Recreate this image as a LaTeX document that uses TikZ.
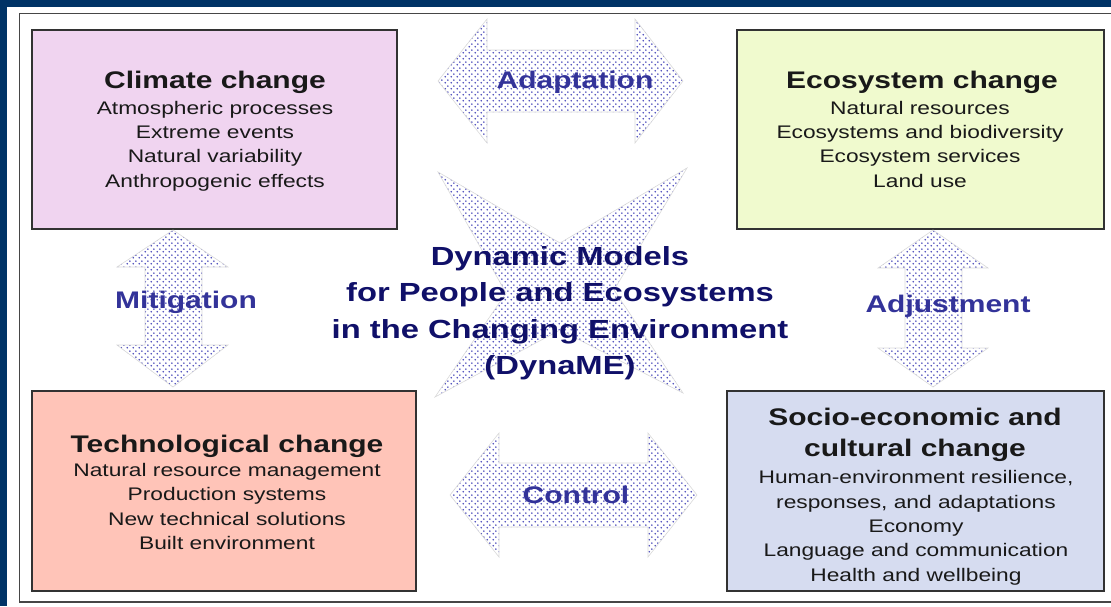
\documentclass[tikz,border=0pt]{standalone}
\usepackage{fontspec}
\setmainfont{Liberation Sans}[FakeStretch=1.25]
\usetikzlibrary{patterns}
\definecolor{framebl}{RGB}{0,51,102}
\definecolor{climfill}{RGB}{240,212,240}
\definecolor{ecofill}{RGB}{240,250,206}
\definecolor{techfill}{RGB}{255,196,184}
\definecolor{sociofill}{RGB}{214,220,240}
\definecolor{dotblue}{RGB}{72,72,185}
\definecolor{lblblue}{RGB}{51,51,153}
\definecolor{navy}{RGB}{16,16,105}
\definecolor{boxtext}{RGB}{25,25,25}
\pgfdeclarepatternformonly{bigdots}{\pgfpointorigin}{\pgfpoint{6pt}{6pt}}{\pgfpoint{6pt}{6pt}}{%
  \pgfpathcircle{\pgfpoint{1.5pt}{1.5pt}}{1pt}%
  \pgfpathcircle{\pgfpoint{4.5pt}{4.5pt}}{1pt}%
  \pgfusepath{fill}}
\begin{document}
\begin{tikzpicture}[x=1pt,y=-1pt,
  box/.style={draw={rgb,255:red,50;green,50;blue,50}, line width=1.3pt, inner sep=0pt},
  blockarrow/.style={pattern=bigdots, pattern color=dotblue, draw=gray!30, line width=0.6pt},
  titletext/.style={anchor=base, align=center, text=boxtext, inner sep=0pt, font={\fontsize{24}{31}\selectfont\bfseries}},
  listtext/.style={anchor=base, align=center, text=boxtext, inner sep=0pt, font={\fontsize{18.2}{24.3}\selectfont}},
  arrowlabel/.style={anchor=base, text=lblblue, inner sep=0pt, font={\fontsize{24}{28}\selectfont\bfseries}},
  centertext/.style={anchor=base, align=center, text=navy, inner sep=0pt, font={\fontsize{26.2}{36.5}\selectfont\bfseries}}]
\useasboundingbox (0,0) rectangle (1111,606);
% frame
\fill[framebl] (0,0) rectangle (1111,6.5);
\fill[framebl] (0,0) rectangle (7,606);
\draw[draw={rgb,255:red,70;green,70;blue,70}, line width=1.6pt] (19.5,13.5) rectangle (1130,602);
% boxes
\node[box, fill=climfill, minimum width=365pt, minimum height=199pt] (climate) at (214.5,129.5) {};
\node[box, fill=ecofill, minimum width=367pt, minimum height=199pt] (eco) at (920.5,129.5) {};
\node[box, fill=techfill, minimum width=384pt, minimum height=200pt] (tech) at (224,491) {};
\node[box, fill=sociofill, minimum width=377pt, minimum height=200pt] (socio) at (915.5,491) {};
% block arrows
\path[blockarrow] (438,81) -- (487,19) -- (487,50) -- (635,50) -- (635,19) -- (683,81) -- (635,143) -- (635,112) -- (487,112) -- (487,143) -- cycle;
\path[blockarrow] (450,495) -- (499,433) -- (499,463) -- (648,463) -- (648,433) -- (697,495) -- (648,557) -- (648,527) -- (499,527) -- (499,557) -- cycle;
\path[blockarrow] (173,230) -- (228,267) -- (202,267) -- (202,345) -- (228,345) -- (173,387) -- (117,345) -- (145,345) -- (145,267) -- (117,267) -- cycle;
\path[blockarrow] (933,230) -- (988,268) -- (962,268) -- (962,348) -- (988,348) -- (933,387) -- (878,348) -- (905,348) -- (905,268) -- (878,268) -- cycle;
\path[blockarrow] (438,172) -- (560,243) -- (687,168) -- (614,290) -- (683,393) -- (560,330) -- (435,397) -- (506,293) -- cycle;
% box texts (base anchor = baseline of the last line)
\node[titletext] (climT) at (215,88) {Climate change};
\node[listtext] (climL) at (215,187) {Atmospheric processes\\Extreme events\\Natural variability\\Anthropogenic effects};
\node[titletext] (ecoT) at (922,88) {Ecosystem change};
\node[listtext] (ecoL) at (920,187) {Natural resources\\Ecosystems and biodiversity\\Ecosystem services\\Land use};
\node[titletext] (techT) at (227,452) {Technological change};
\node[listtext] (techL) at (227,549.5) {Natural resource management\\Production systems\\New technical solutions\\Built environment};
\node[titletext] (socioT) at (915,456) {Socio-economic and\\cultural change};
\node[listtext] (socioL) at (916,581) {Human-environment resilience,\\responses, and adaptations\\Economy\\Language and communication\\Health and wellbeing};
% labels
\node[arrowlabel] (adapt) at (575,88) {Adaptation};
\node[arrowlabel] (mitig) at (186,308) {Mitigation};
\node[arrowlabel] (adjust) at (948,312) {Adjustment};
\node[arrowlabel] (control) at (576,503) {Control};
% centre
\node[centertext] (dyname) at (560,374.5) {Dynamic Models\\for People and Ecosystems\\in the Changing Environment\\(DynaME)};
\end{tikzpicture}
\end{document}
